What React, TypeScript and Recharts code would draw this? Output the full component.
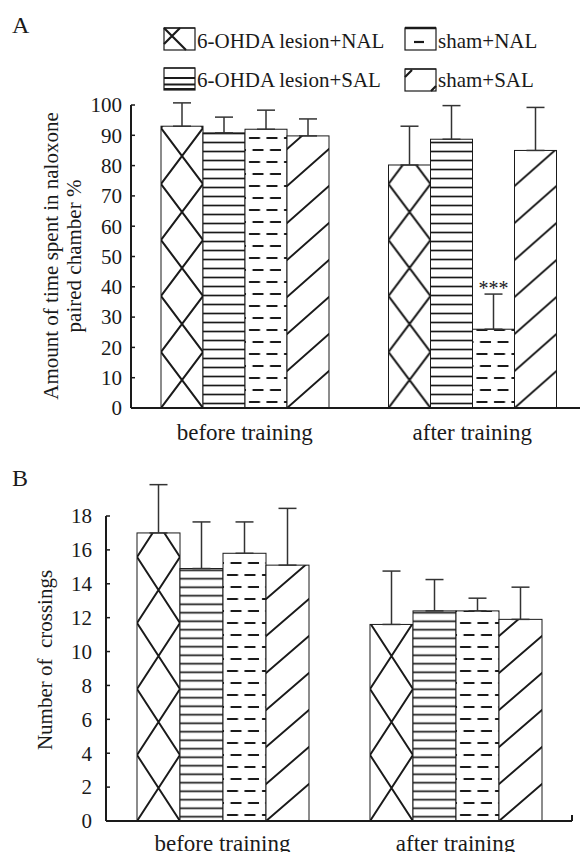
import React from 'react'
import { BarChart, Bar, XAxis, YAxis, ErrorBar, LabelList } from 'recharts'

const FONT = '"Liberation Serif", "Times New Roman", serif'
const INK = '#1a1a1a'

// ── data ──
const groups = ['before training', 'after training']
const seriesNames = ['6-OHDA lesion+NAL', '6-OHDA lesion+SAL', 'sham+NAL', 'sham+SAL']

// panel A: % time in naloxone-paired chamber (mean, upper SEM)
const timeLesionNal = [93, 80.2]
const timeLesionSal = [90.8, 88.7]
const timeShamNal = [92, 26]
const timeShamSal = [89.8, 85]
const timeErrLesionNal = [7.7, 12.8]
const timeErrLesionSal = [5.2, 11.1]
const timeErrShamNal = [6.3, 11.6]
const timeErrShamSal = [5.6, 14.2]
const timeTicks = [0, 10, 20, 30, 40, 50, 60, 70, 80, 90, 100]

// panel B: number of crossings
const crossLesionNal = [17.0, 11.6]
const crossLesionSal = [14.9, 12.4]
const crossShamNal = [15.8, 12.4]
const crossShamSal = [15.1, 11.9]
const crossErrLesionNal = [2.85, 3.15]
const crossErrLesionSal = [2.75, 1.85]
const crossErrShamNal = [1.85, 0.75]
const crossErrShamSal = [3.35, 1.9]
const crossTicks = [0, 2, 4, 6, 8, 10, 12, 14, 16, 18]

const kinds = ['cross', 'hline', 'dash', 'diag']

function buildRows(vals: number[][], errs: number[][]) {
  return groups.map((g, i) => {
    const row: any = { group: g }
    vals.forEach((v, s) => {
      row['v' + s] = v[i]
      row['e' + s] = [0, errs[s][i]]
    })
    return row
  })
}

const timeData = buildRows(
  [timeLesionNal, timeLesionSal, timeShamNal, timeShamSal],
  [timeErrLesionNal, timeErrLesionSal, timeErrShamNal, timeErrShamSal],
)
const crossData = buildRows(
  [crossLesionNal, crossLesionSal, crossShamNal, crossShamSal],
  [crossErrLesionNal, crossErrLesionSal, crossErrShamNal, crossErrShamSal],
)

// hatch fill anchored at the bar's bottom-left corner
function HatchPattern({ id, kind, x, y, w, crossH, lineGap }: any) {
  const common = { stroke: INK, fill: 'none' }
  if (kind === 'cross') {
    const tw = w, th = crossH
    const d = [
      `M${-tw},${-th}L${2 * tw},${2 * th}`,
      `M0,${-th}L${3 * tw},${2 * th}`,
      `M${-2 * tw},${-th}L${tw},${2 * th}`,
      `M${2 * tw},${-th}L${-tw},${2 * th}`,
      `M${3 * tw},${-th}L0,${2 * th}`,
      `M${tw},${-th}L${-2 * tw},${2 * th}`,
    ].join('')
    return (
      <pattern id={id} patternUnits="userSpaceOnUse" x={x} y={y} width={tw} height={th}>
        <path d={d} {...common} strokeWidth={2} />
      </pattern>
    )
  }
  if (kind === 'hline') {
    return (
      <pattern id={id} patternUnits="userSpaceOnUse" x={x} y={y} width={8} height={lineGap}>
        <path d={`M0,${lineGap / 2}H8`} {...common} strokeWidth={1.7} />
      </pattern>
    )
  }
  if (kind === 'dash') {
    const tw = 17.5
    return (
      <pattern id={id} patternUnits="userSpaceOnUse" x={x} y={y} width={tw} height={24}>
        <path d="M7.5,6h11M4,18h11M-10,6h11M21,18h11" {...common} strokeWidth={2} />
      </pattern>
    )
  }
  const tw = w, th = 37
  const d = [-1, 0, 1]
    .map((k) => `M${-tw},${2 * th + k * th}L${2 * tw},${-th + k * th}`)
    .join('')
  return (
    <pattern id={id} patternUnits="userSpaceOnUse" x={x} y={y} width={tw} height={th}>
      <path d={d} {...common} strokeWidth={2} />
    </pattern>
  )
}

function HatchBar(props: any) {
  const { x, y, width, height, index, kind, panel, crossH, lineGap } = props
  if (!width || !height) return null
  const id = `hatch-${panel}-${kind}-${index}`
  return (
    <g>
      <defs>
        <HatchPattern id={id} kind={kind} x={x} y={y + height} w={width} crossH={crossH} lineGap={lineGap} />
      </defs>
      <rect x={x} y={y} width={width} height={height} fill="#fff" />
      <rect x={x} y={y} width={width} height={height} fill={`url(#${id})`} stroke={INK} strokeWidth={1} />
    </g>
  )
}

function YTick(props: any) {
  const { x, y, payload, gap } = props
  const axisX = x + gap
  return (
    <g>
      <line x1={axisX} x2={axisX + 4} y1={y} y2={y} stroke={INK} strokeWidth={1.5} />
      <text x={x} y={y} dy="0.35em" textAnchor="end" fontFamily={FONT} fontSize={21} fill={INK}>
        {payload.value}
      </text>
    </g>
  )
}

function Stars(props: any) {
  const { x, y, width, height, value, index } = props
  if (index !== 1) return null
  const err = timeErrShamNal[index]
  const errPx = (height / value) * err
  return (
    <text x={x + width / 2} y={y - errPx + 1} textAnchor="middle" fontFamily={FONT} fontSize={20} fill={INK}>
      ***
    </text>
  )
}

function Panel({ data, width, height, margin, domain, ticks, tickGap, barSize, panel, crossH, lineGap, stars, xTickMargin }: any) {
  return (
    <BarChart width={width} height={height} data={data} margin={margin} barGap={0} barSize={barSize}>
      <XAxis
        dataKey="group"
        height={40}
        tickLine={false}
        tickSize={0}
        tickMargin={xTickMargin}
        axisLine={{ stroke: INK, strokeWidth: 2 }}
        tick={{ fontFamily: FONT, fontSize: 23, fill: INK }}
      />
      <YAxis
        width={60}
        domain={domain}
        allowDataOverflow
        ticks={ticks}
        interval={0}
        tickLine={false}
        tickSize={0}
        tickMargin={tickGap}
        axisLine={{ stroke: INK, strokeWidth: 2 }}
        tick={(p: any) => <YTick {...p} gap={tickGap} />}
      />
      {kinds.map((k, s) => (
        <Bar
          key={k}
          dataKey={'v' + s}
          name={seriesNames[s]}
          isAnimationActive={false}
          shape={(p: any) => <HatchBar {...p} kind={k} panel={panel} crossH={crossH} lineGap={lineGap} />}
        >
          <ErrorBar dataKey={'e' + s} width={9} stroke="#333" strokeWidth={1.5} direction="y" />
          {stars && s === 2 && <LabelList dataKey={'v' + s} content={Stars} />}
        </Bar>
      ))}
    </BarChart>
  )
}

function Swatch({ x, y, kind }: any) {
  const w = 31, h = 22
  let d = ''
  let topW = 1.2
  if (kind === 'cross') d = `M${x},${y}L${x + 22},${y + h}M${x + 16},${y}L${x},${y + 16}`
  if (kind === 'hline') d = `M${x},${y + 10}h${w}M${x},${y + 16.5}h${w}M${x},${y + 21}h${w}`
  if (kind === 'dash') { d = `M${x + 9},${y + 14}h10`; topW = 2.5 }
  if (kind === 'diag') d = `M${x},${y + 8}L${x + 7},${y + 1}M${x + 26},${y + h}L${x + w},${y + 17}`
  return (
    <g>
      <rect x={x} y={y} width={w} height={h} fill="#fff" stroke={INK} strokeWidth={1.2} />
      <path d={d} stroke={INK} strokeWidth={2.2} fill="none" />
      <line x1={x} x2={x + w} y1={y} y2={y} stroke={INK} strokeWidth={topW} />
    </g>
  )
}

const legendItems = [
  { kind: 'cross', name: seriesNames[0], x: 164, y: 28, base: 48 },
  { kind: 'dash', name: seriesNames[2], x: 405, y: 28, base: 48 },
  { kind: 'hline', name: seriesNames[1], x: 164, y: 68, base: 87 },
  { kind: 'diag', name: seriesNames[3], x: 405, y: 69, base: 87 },
]

export default function App() {
  return (
    <div style={{ position: 'absolute', left: 0, top: 0, width: 580, height: 852, overflow: 'hidden', background: '#fff' }}>
      <svg width={580} height={852} style={{ position: 'absolute', left: 0, top: 0 }}>
        <text x={12} y={33} fontFamily={FONT} fontSize={24} fill={INK}>A</text>
        <text x={12} y={486} fontFamily={FONT} fontSize={24} fill={INK}>B</text>
        {legendItems.map((it) => (
          <g key={it.name}>
            <Swatch x={it.x} y={it.y} kind={it.kind} />
            <text x={it.x + 33} y={it.base} fontFamily={FONT} fontSize={21} fill={INK}>{it.name}</text>
          </g>
        ))}
        <text transform="translate(58,256) rotate(-90)" textAnchor="middle" fontFamily={FONT} fontSize={21} fill={INK}>
          Amount of time spent in naloxone
        </text>
        <text transform="translate(81,256) rotate(-90)" textAnchor="middle" fontFamily={FONT} fontSize={21} fill={INK}>
          paired chamber %
        </text>
        <text transform="translate(52,660) rotate(-90)" textAnchor="middle" fontFamily={FONT} fontSize={21} fill={INK} style={{ whiteSpace: 'pre' }}>
          Number of  crossings
        </text>
        {/* end tick on panel B's category axis */}
        <line x1={572} x2={572} y1={815} y2={821} stroke={INK} strokeWidth={2} />
      </svg>

      <div style={{ position: 'absolute', left: 0, top: 0 }}>
        <Panel
          panel="A"
          data={timeData}
          width={600}
          height={470}
          margin={{ top: 105, right: 14, bottom: 22, left: 71 }}
          domain={[0, 100]}
          ticks={timeTicks}
          tickGap={9}
          barSize={42}
          crossH={56}
          lineGap={9}
          stars
          xTickMargin={16}
        />
      </div>
      <div style={{ position: 'absolute', left: 0, top: 470 }}>
        <Panel
          panel="B"
          data={crossData}
          width={600}
          height={400}
          margin={{ top: 46, right: 28, bottom: 9, left: 46 }}
          domain={[0, 18]}
          ticks={crossTicks}
          tickGap={14}
          barSize={43}
          crossH={66}
          lineGap={8.5}
          xTickMargin={14}
        />
      </div>
    </div>
  )
}
